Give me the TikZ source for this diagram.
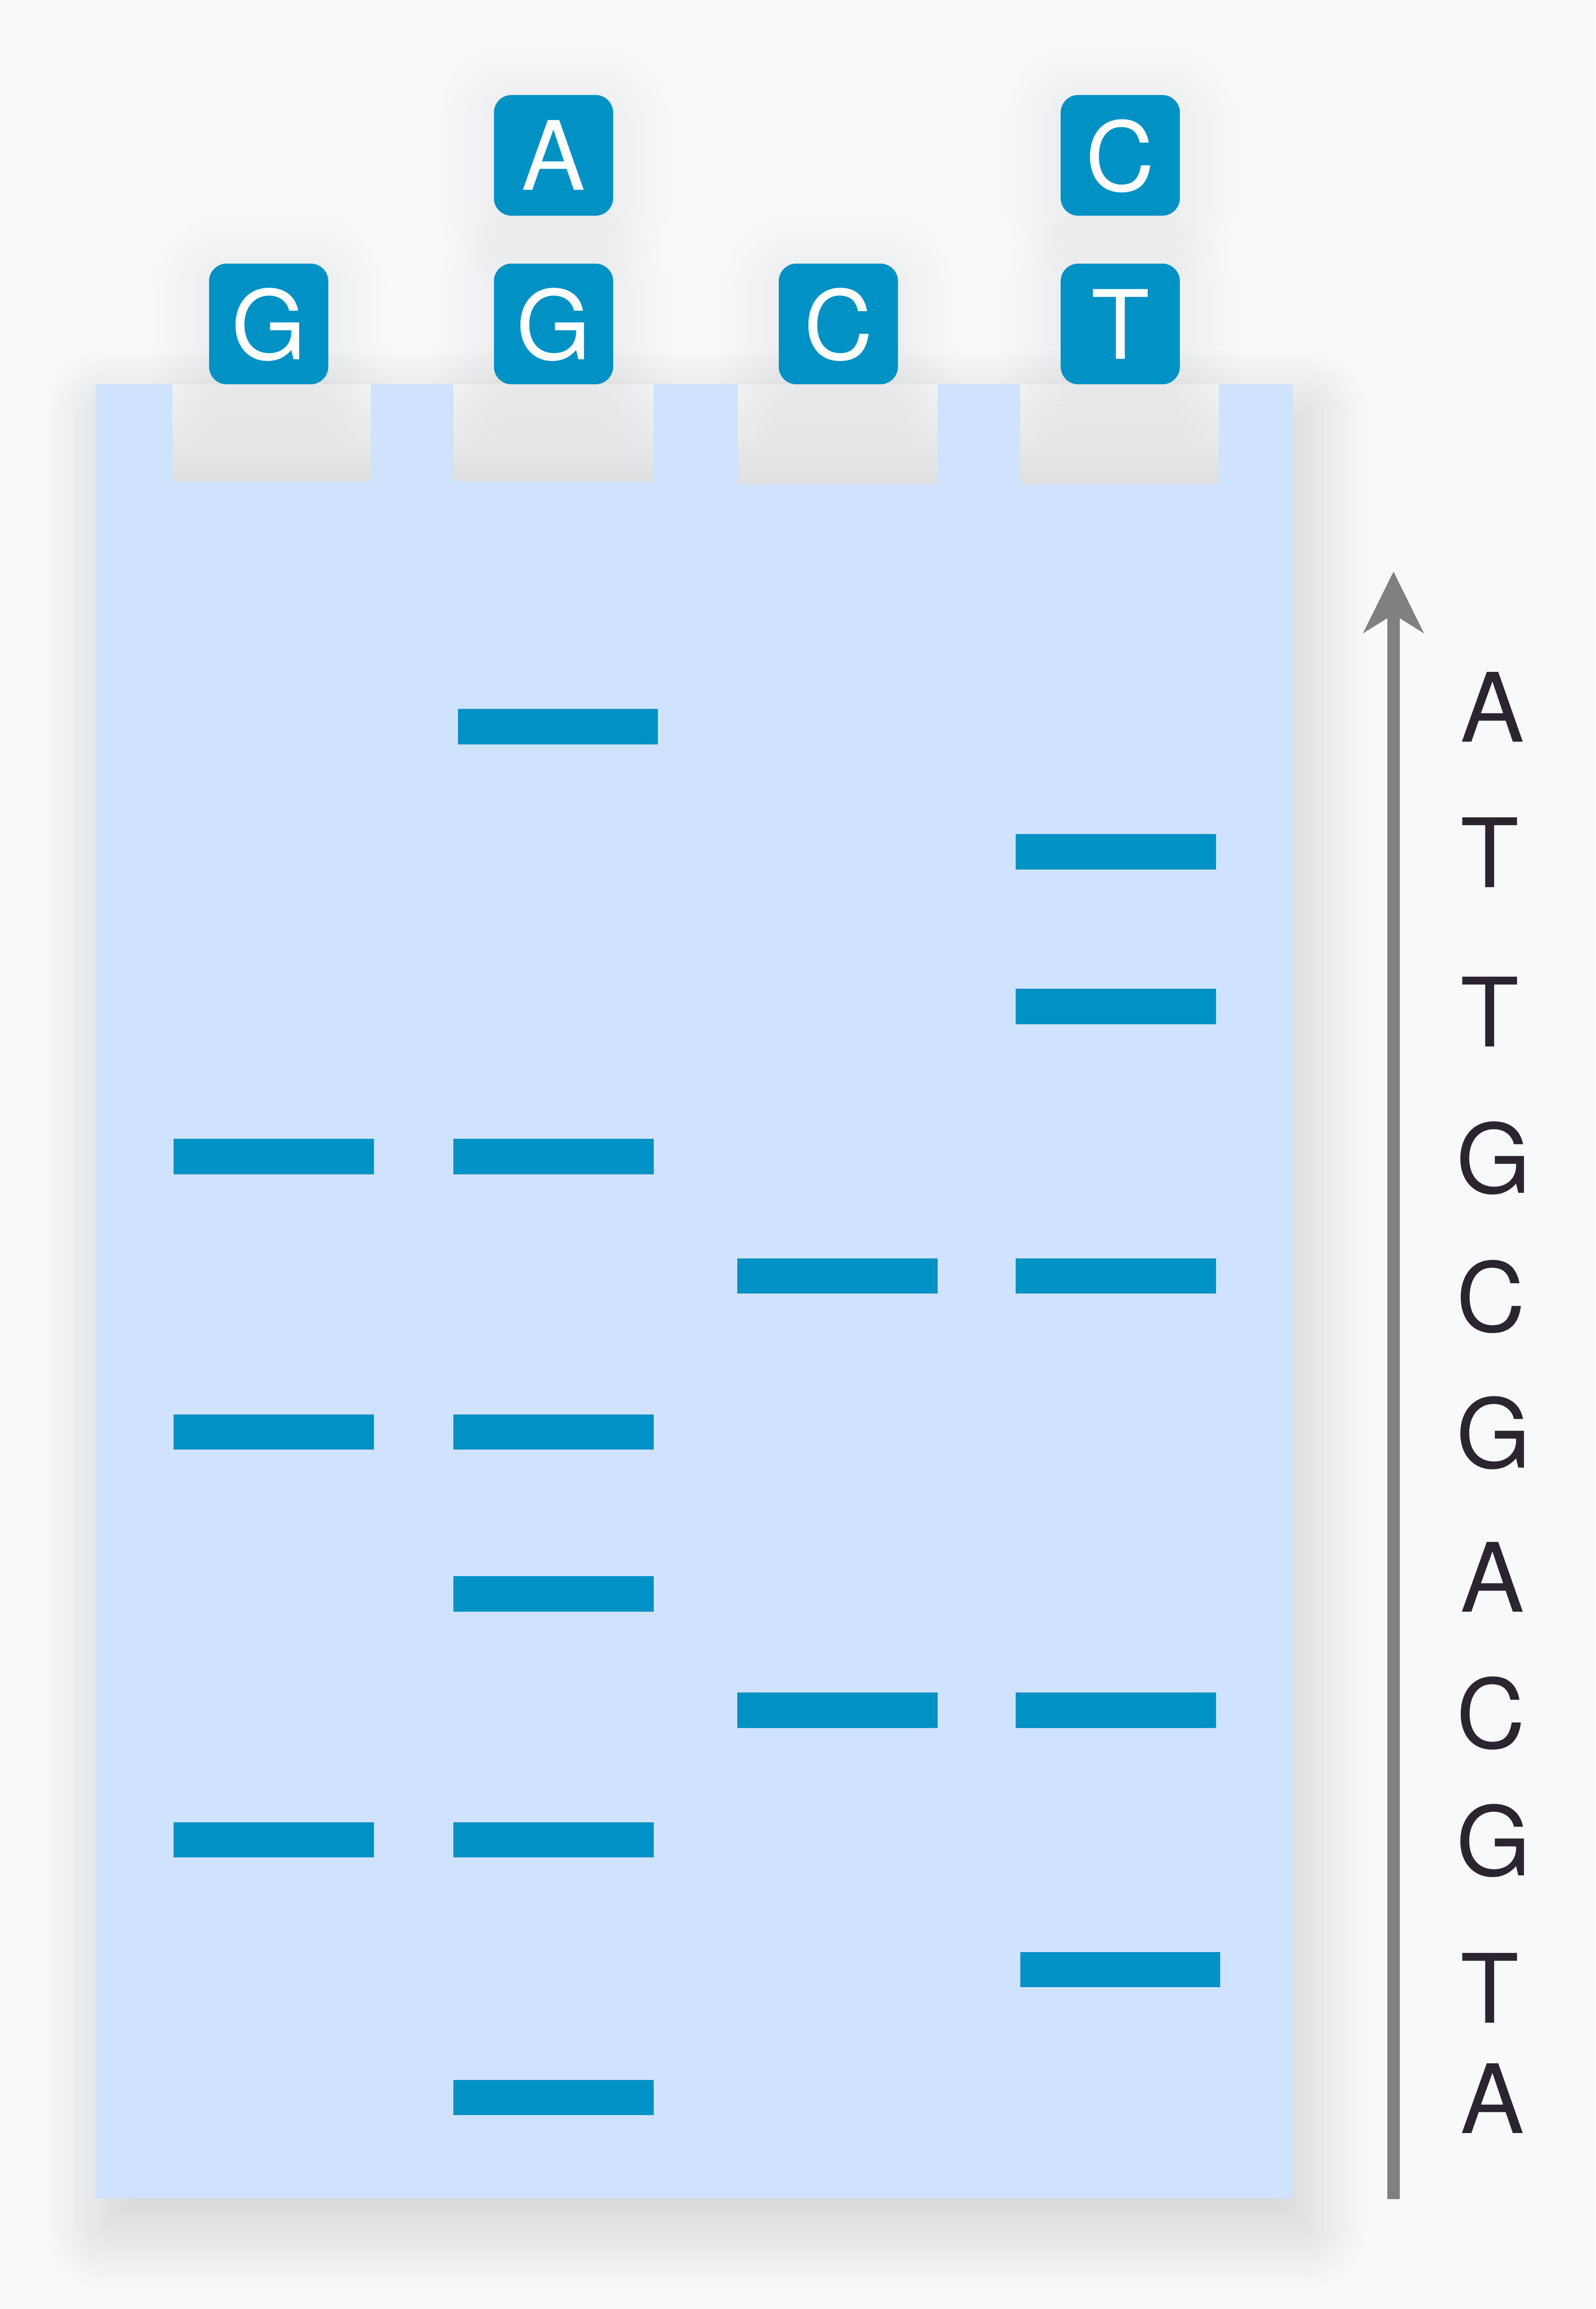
\documentclass[tikz,border=0pt]{standalone}
\usepackage{fontspec}
\setmainfont{TeX Gyre Heros}
\usetikzlibrary{arrows.meta}
\definecolor{bgcol}{HTML}{F8F9FB}
\definecolor{gelcol}{HTML}{CFE2FE}
\definecolor{bandcol}{HTML}{0091C5}
\definecolor{arrowcol}{HTML}{808080}
\definecolor{txtcol}{HTML}{2C2530}
\definecolor{welltop}{HTML}{F4F5F6}
\definecolor{wellbot}{HTML}{DEDFE1}
\begin{document}
\begin{tikzpicture}[x=1pt,y=-1pt,
  keybox/.style={fill=bandcol, rounded corners=12pt, minimum width=81pt, minimum height=82pt,
    inner sep=0pt, text=white, font=\fontsize{65}{65}\selectfont, text depth=0pt},
  bandbar/.style={fill=bandcol, minimum width=136pt, minimum height=24pt, inner sep=0pt},
  seqletter/.style={anchor=west, inner sep=0pt, text=txtcol, font=\fontsize{65}{65}\selectfont, text depth=0pt}]
% background and bounding box
\fill[bgcol] (0,0) rectangle (1084,1568.1);
\useasboundingbox (0,0) rectangle (1084,1568.1);
% soft shadow of the gel
\foreach \s in {-38,-34,...,42} {
  \pgfmathsetmacro\rc{max(\s,1)}
  \fill[black, fill opacity=0.008, rounded corners=\rc pt]
    ({73-(\s)},{280-(\s)}) rectangle ({886+(\s)},{1512+(\s)});
}
% wells (shaded hollows)
\foreach \welL/\welR/\welD in {117/252/327, 308/444/327, 501/637/329, 693/828/329} {
  \shade[top color=welltop, bottom color=wellbot] (\welL,261) rectangle (\welR,\welD);
}
% soft shadows of the key boxes
\foreach \cx/\cy in {182.5/220, 376/220, 569.5/220, 761/220, 376/105.5, 761/105.5} {
  \foreach \s in {-36,-32,...,40} {
    \pgfmathsetmacro\rc{max(12+\s,2)}
    \fill[black, fill opacity=0.0045, rounded corners=\rc pt]
      ({\cx-40.5-(\s)},{\cy-41+6-(\s)}) rectangle ({\cx+40.5+(\s)},{\cy+41+6+(\s)});
  }
}
% gel
\fill[gelcol] (65,261) -- (117,261) -- (117,327) -- (252,327) -- (252,261)
  -- (308,261) -- (308,327) -- (444,327) -- (444,261)
  -- (501,261) -- (501,329) -- (637,329) -- (637,261)
  -- (693,261) -- (693,329) -- (828,329) -- (828,261)
  -- (878,261) -- (878,1493) -- (65,1493) -- cycle;
% key boxes
\node[keybox] (gG) at (182.5,220) {G};
\node[keybox] (aG) at (376,220) {G};
\node[keybox] (aA) at (376,105.5) {A};
\node[keybox] (cC) at (569.5,220) {C};
\node[keybox] (tT) at (761,220) {T};
\node[keybox] (tC) at (761,105.5) {C};
% bands, lane G
\node[bandbar] (g1) at (186,785.5) {};
\node[bandbar] (g2) at (186,972.5) {};
\node[bandbar] (g3) at (186,1249.5) {};
% bands, lane A+G
\node[bandbar] (a0) at (379,493.5) {};
\node[bandbar] (a1) at (376,785.5) {};
\node[bandbar] (a2) at (376,972.5) {};
\node[bandbar] (a3) at (376,1082.5) {};
\node[bandbar] (a4) at (376,1249.5) {};
\node[bandbar] (a5) at (376,1424.5) {};
% bands, lane C
\node[bandbar] (c1) at (569,866.5) {};
\node[bandbar] (c2) at (569,1161.5) {};
% bands, lane C+T
\node[bandbar] (t1) at (758,578.5) {};
\node[bandbar] (t2) at (758,683.5) {};
\node[bandbar] (t3) at (758,866.5) {};
\node[bandbar] (t4) at (758,1161.5) {};
\node[bandbar] (t5) at (761,1337.5) {};
% arrow
\coordinate (arrTail) at (946.6,1493.4);
\coordinate (arrTip) at (946.6,388.2);
\draw[arrowcol, line width=8.5pt, -{Stealth[length=42pt, width=41.6pt, inset=13pt, line width=0pt]}] (arrTail) -- (arrTip);
% sequence read-out
\node[seqletter] (s1) at (992,480) {A};
\node[seqletter] (s2) at (992,579) {T};
\node[seqletter] (s3) at (992,687) {T};
\node[seqletter] (s4) at (989,786) {G};
\node[seqletter] (s5) at (989,880) {C};
\node[seqletter] (s6) at (989,972.5) {G};
\node[seqletter] (s7) at (992,1071) {A};
\node[seqletter] (s8) at (989,1163) {C};
\node[seqletter] (s9) at (989,1249.5) {G};
\node[seqletter] (s10) at (992,1350) {T};
\node[seqletter] (s11) at (992,1425) {A};
\end{tikzpicture}
\end{document}
